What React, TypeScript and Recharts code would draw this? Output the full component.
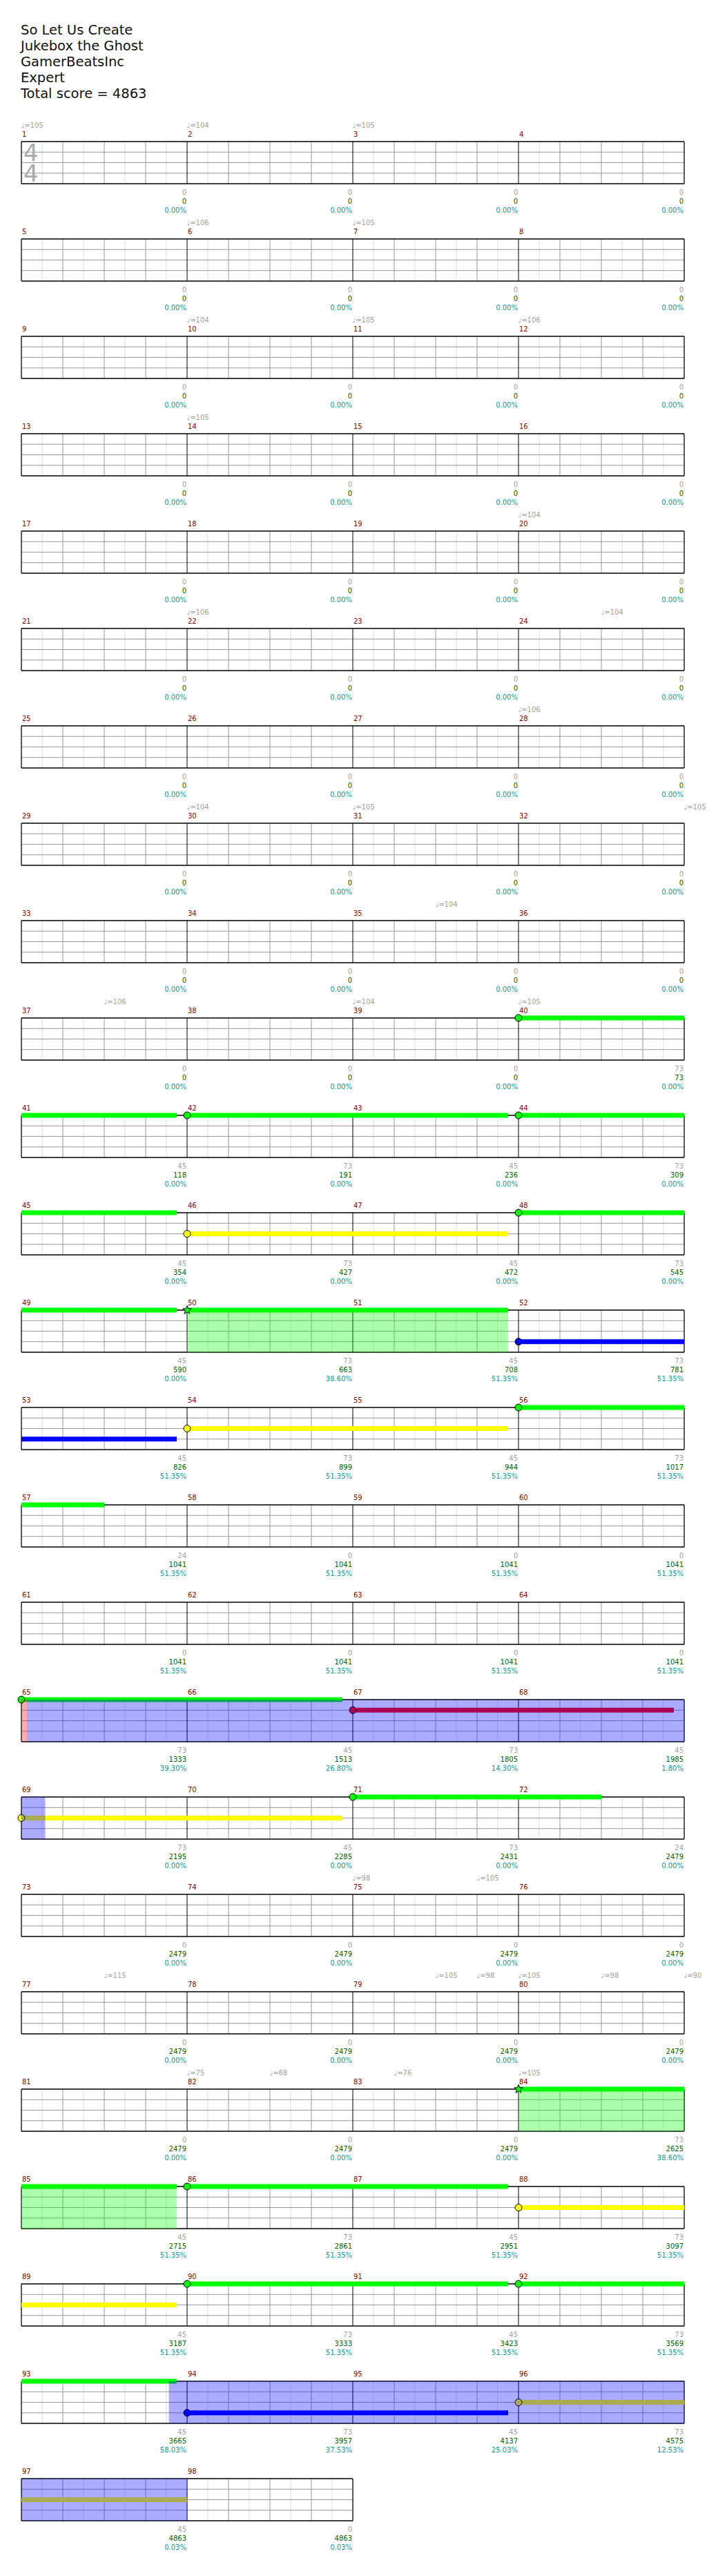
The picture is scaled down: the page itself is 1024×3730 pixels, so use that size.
import React from 'react';
import { ComposedChart, XAxis, YAxis, Scatter, Line, ReferenceLine, ReferenceArea } from 'recharts';

const TITLE_LINES = ['So Let Us Create', 'Jukebox the Ghost', 'GamerBeatsInc', 'Expert', 'Total score = 4863'];

const MEASURE_COUNT = 98;

// per-measure score (grey), cumulative score (green), star power percent (cyan)
const MEASURE_SCORE = [
  0, 0, 0, 0, 0, 0, 0, 0, 0, 0, 0, 0, 0, 0, 0, 0, 0, 0, 0, 0,
  0, 0, 0, 0, 0, 0, 0, 0, 0, 0, 0, 0, 0, 0, 0, 0, 0, 0, 0, 73,
  45, 73, 45, 73, 45, 73, 45, 73, 45, 73, 45, 73, 45, 73, 45, 73, 24, 0, 0, 0,
  0, 0, 0, 0, 73, 45, 73, 45, 73, 45, 73, 24, 0, 0, 0, 0, 0, 0, 0, 0,
  0, 0, 0, 73, 45, 73, 45, 73, 45, 73, 45, 73, 45, 73, 45, 73, 45, 0,
];
const CUMULATIVE = [
  0, 0, 0, 0, 0, 0, 0, 0, 0, 0, 0, 0, 0, 0, 0, 0, 0, 0, 0, 0,
  0, 0, 0, 0, 0, 0, 0, 0, 0, 0, 0, 0, 0, 0, 0, 0, 0, 0, 0, 73,
  118, 191, 236, 309, 354, 427, 472, 545, 590, 663, 708, 781, 826, 899, 944, 1017, 1041, 1041, 1041, 1041,
  1041, 1041, 1041, 1041, 1333, 1513, 1805, 1985, 2195, 2285, 2431, 2479, 2479, 2479, 2479, 2479, 2479, 2479, 2479, 2479,
  2479, 2479, 2479, 2625, 2715, 2861, 2951, 3097, 3187, 3333, 3423, 3569, 3665, 3957, 4137, 4575, 4863, 4863,
];
const SP_PERCENT = [
  0, 0, 0, 0, 0, 0, 0, 0, 0, 0, 0, 0, 0, 0, 0, 0, 0, 0, 0, 0,
  0, 0, 0, 0, 0, 0, 0, 0, 0, 0, 0, 0, 0, 0, 0, 0, 0, 0, 0, 0,
  0, 0, 0, 0, 0, 0, 0, 0, 0, 38.6, 51.35, 51.35, 51.35, 51.35, 51.35, 51.35, 51.35, 51.35, 51.35, 51.35,
  51.35, 51.35, 51.35, 51.35, 39.3, 26.8, 14.3, 1.8, 0, 0, 0, 0, 0, 0, 0, 0, 0, 0, 0, 0,
  0, 0, 0, 38.6, 51.35, 51.35, 51.35, 51.35, 51.35, 51.35, 51.35, 51.35, 58.03, 37.53, 25.03, 12.53, 0.03, 0.03,
];

// tempo markers: position in measures (0-based), bpm
const TEMPO_POS = [0, 1, 2, 5, 6, 9, 10, 11, 13, 19, 21, 23.5, 27, 29, 30, 32, 34.5, 36.5, 38, 39, 74, 74.75, 76.5, 78.5, 78.75, 79, 79.5, 80, 81, 81.5, 82.25, 83];
const TEMPO_BPM = [105, 104, 105, 106, 105, 104, 105, 106, 105, 104, 106, 104, 106, 104, 105, 105, 104, 106, 104, 105, 98, 105, 115, 105, 98, 105, 98, 90, 75, 68, 76, 105];

// notes: start (measures, 0-based), lane (0 = green ... 4 = orange), sustain end, star
const NOTE_POS = [39, 41, 43, 45, 47, 49, 51, 53, 55, 64, 66, 68, 70, 83, 85, 87, 89, 91, 93, 95];
const NOTE_LANE = [0, 0, 0, 2, 0, 0, 3, 2, 0, 0, 1, 2, 0, 0, 0, 2, 0, 0, 3, 2];
const NOTE_END = [40.9375, 42.9375, 44.9375, 46.9375, 48.9375, 50.9375, 52.9375, 54.9375, 56.5, 65.9375, 67.9375, 69.9375, 71.5, 84.9375, 86.9375, 88.9375, 90.9375, 92.9375, 94.9375, 97];
const NOTE_STAR = [false, false, false, false, false, true, false, false, false, false, false, false, false, true, false, false, false, false, false, false];

const PHRASE_START = [49, 83];
const PHRASE_END = [50.9375, 84.9375];
const ACTIVATION_START = [64.033, 92.89];
const ACTIVATION_END = [68.144, 97.0];
const WINDOW_START = [64];
const WINDOW_END = [64.033];

const LANE_COLORS = ['#00ff00', '#ff0000', '#ffff00', '#0000ff', '#ff8000'];
const FONT = 'DejaVu Sans, Verdana, sans-serif';

const ROW_TOP = 165;
const ROW_H = 141;
const CHART_H = 165;
const MARGIN = { top: 40, bottom: CHART_H - 40 - 61, left: 31, right: 33 };

const rowOfTempo = (x: number) => (x > 0 && x % 4 === 0 ? x / 4 - 1 : Math.floor(x / 4));

const NoteShape = (p: any) => {
  const { cx, cy, payload } = p;
  if (payload.star) {
    const pts: string[] = [];
    for (let i = 0; i < 10; i++) {
      const a = -Math.PI / 2 + (i * Math.PI) / 5;
      const rr = i % 2 === 0 ? 6.5 : 2.8;
      pts.push(`${cx + rr * Math.cos(a)},${cy + rr * Math.sin(a)}`);
    }
    return <polygon points={pts.join(' ')} fill={payload.color} stroke="#000" strokeWidth={1} />;
  }
  return <circle cx={cx} cy={cy} r={5} fill={payload.color} stroke="#000" strokeWidth={1} />;
};

const MeasureNumShape = (p: any) => (
  <text x={p.cx + 1} y={p.cy - 7.5} fontSize={10} fontFamily={FONT} fill="#8b0000">{p.payload.label}</text>
);

const ScoreShape = (p: any) => (
  <g fontFamily={FONT} fontSize={10} textAnchor="end">
    <text x={p.cx - 1} y={p.cy + 15.5} fill="#a0a0a0">{p.payload.score}</text>
    <text x={p.cx - 1} y={p.cy + 28.5} fill="#006400">{p.payload.total}</text>
    <text x={p.cx - 1} y={p.cy + 41.5} fill="#009b9b">{p.payload.pct}</text>
  </g>
);

const TempoShape = (p: any) => (
  <text x={p.cx - 0.5} y={p.cy - 20.5} fontSize={10} fontFamily={FONT} fill="#a0a0a0">{`\u2669=${p.payload.bpm}`}</text>
);

const TimeSigShape = (p: any) => (
  <text fontFamily={FONT} fontSize={34} fill="#aaaaaa">
    <tspan x={p.cx + 3} y={p.cy + 27.7}>4</tspan>
    <tspan x={p.cx + 3} y={p.cy + 57.7}>4</tspan>
  </text>
);

function RowChart({ r }: { r: number }) {
  const x0 = r * 4;
  const nM = Math.min(4, MEASURE_COUNT - x0);
  const xEnd = x0 + nM;

  const vLines: any[] = [];
  for (let k = 1; k < nM * 8; k++) {
    if (k % 8 === 0) continue;
    const x = x0 + k / 8;
    const color = k % 2 === 0 ? '#999' : '#dddddd';
    vLines.push(<ReferenceLine key={`v${k}`} segment={[{ x, y: 0 }, { x, y: 4 }]} stroke={color} strokeWidth={1} />);
  }
  const barLines: any[] = [];
  for (let m = 1; m < nM; m++) {
    const x = x0 + m;
    barLines.push(<ReferenceLine key={`b${m}`} segment={[{ x, y: 0 }, { x, y: 4 }]} stroke="#000" strokeWidth={1} />);
  }
  const hLines = [1, 2, 3].map((y) => (
    <ReferenceLine key={`h${y}`} segment={[{ x: x0, y }, { x: xEnd, y }]} stroke="#999" strokeWidth={1} />
  ));
  const border = [
    <ReferenceLine key="bt" segment={[{ x: x0, y: 0 }, { x: xEnd, y: 0 }]} stroke="#000" strokeWidth={1.3} />,
    <ReferenceLine key="bb" segment={[{ x: x0, y: 4 }, { x: xEnd, y: 4 }]} stroke="#000" strokeWidth={1.3} />,
    <ReferenceLine key="bl" segment={[{ x: x0, y: 0 }, { x: x0, y: 4 }]} stroke="#000" strokeWidth={1.3} />,
    <ReferenceLine key="br" segment={[{ x: xEnd, y: 0 }, { x: xEnd, y: 4 }]} stroke="#000" strokeWidth={1.3} />,
  ];

  const clipSeg = (a: number, b: number) => {
    const s = Math.max(a, x0);
    const e = Math.min(b, x0 + 4);
    return e > s ? [s, e] : null;
  };

  const sustains: any[] = [];
  NOTE_POS.forEach((pos, i) => {
    const seg = clipSeg(pos, NOTE_END[i]);
    if (!seg) return;
    sustains.push(
      <Line
        key={`s${i}`}
        data={[{ x: seg[0], y: NOTE_LANE[i] }, { x: seg[1], y: NOTE_LANE[i] }]}
        dataKey="y"
        stroke={LANE_COLORS[NOTE_LANE[i]]}
        strokeWidth={7}
        dot={false}
        activeDot={false}
        isAnimationActive={false}
        strokeLinecap="butt"
      />
    );
  });

  const notes = NOTE_POS.map((pos, i) => ({ x: pos, y: NOTE_LANE[i], color: LANE_COLORS[NOTE_LANE[i]], star: NOTE_STAR[i] }))
    .filter((n) => n.x >= x0 && n.x < x0 + 4);

  const overlays: any[] = [];
  const addOverlay = (starts: number[], ends: number[], color: string, key: string) => {
    starts.forEach((s, i) => {
      const seg = clipSeg(s, ends[i]);
      if (!seg) return;
      overlays.push(
        <ReferenceArea key={`${key}${i}`} x1={seg[0]} x2={seg[1]} y1={0} y2={4} fill={color} fillOpacity={0.33} stroke="none" {...({ zIndex: 1500 } as any)} />
      );
    });
  };
  addOverlay(PHRASE_START, PHRASE_END, '#00ff00', 'p');
  addOverlay(ACTIVATION_START, ACTIVATION_END, '#0000ff', 'a');
  addOverlay(WINDOW_START, WINDOW_END, '#ff0000', 'w');

  const measureNums = [];
  const scores = [];
  for (let m = x0 + 1; m <= xEnd; m++) {
    measureNums.push({ x: m - 1, y: 0, label: String(m) });
    scores.push({ x: m, y: 4, score: MEASURE_SCORE[m - 1], total: CUMULATIVE[m - 1], pct: SP_PERCENT[m - 1].toFixed(2) + '%' });
  }
  const tempos = TEMPO_POS.map((x, i) => ({ x, y: 0, bpm: TEMPO_BPM[i] })).filter((t) => rowOfTempo(t.x) === r);

  return (
    <ComposedChart width={1024} height={CHART_H} margin={MARGIN} style={{ overflow: 'visible' }}>
      <XAxis type="number" dataKey="x" domain={[x0, x0 + 4]} hide />
      <YAxis type="number" dataKey="y" domain={[0, 4]} reversed hide />
      {vLines}
      {hLines}
      {barLines}
      {border}
      {sustains}
      <Scatter data={notes} shape={NoteShape} isAnimationActive={false} />
      {overlays}
      <Scatter data={measureNums} shape={MeasureNumShape} isAnimationActive={false} />
      <Scatter data={scores} shape={ScoreShape} isAnimationActive={false} />
      {tempos.length > 0 && <Scatter data={tempos} shape={TempoShape} isAnimationActive={false} />}
      {r === 0 && <Scatter data={[{ x: 0, y: 0 }]} shape={TimeSigShape} isAnimationActive={false} />}
    </ComposedChart>
  );
}

export default function App() {
  const rows = Array.from({ length: Math.ceil(MEASURE_COUNT / 4) }, (_, r) => r);
  return (
    <div style={{ position: 'absolute', left: 0, top: 0, width: 1024, height: 3730, background: '#fff' }}>
      <svg width={1024} height={160} style={{ position: 'absolute', left: 0, top: 0 }}>
        {TITLE_LINES.map((t, i) => (
          <text key={i} x={30} y={49.5 + i * 23.2} fontSize={19.5} fontFamily={FONT} fill="#111">{t}</text>
        ))}
      </svg>
      {rows.map((r) => (
        <div key={r} style={{ position: 'absolute', left: 0, top: ROW_TOP + r * ROW_H, width: 1024, height: CHART_H }}>
          <RowChart r={r} />
        </div>
      ))}
    </div>
  );
}
